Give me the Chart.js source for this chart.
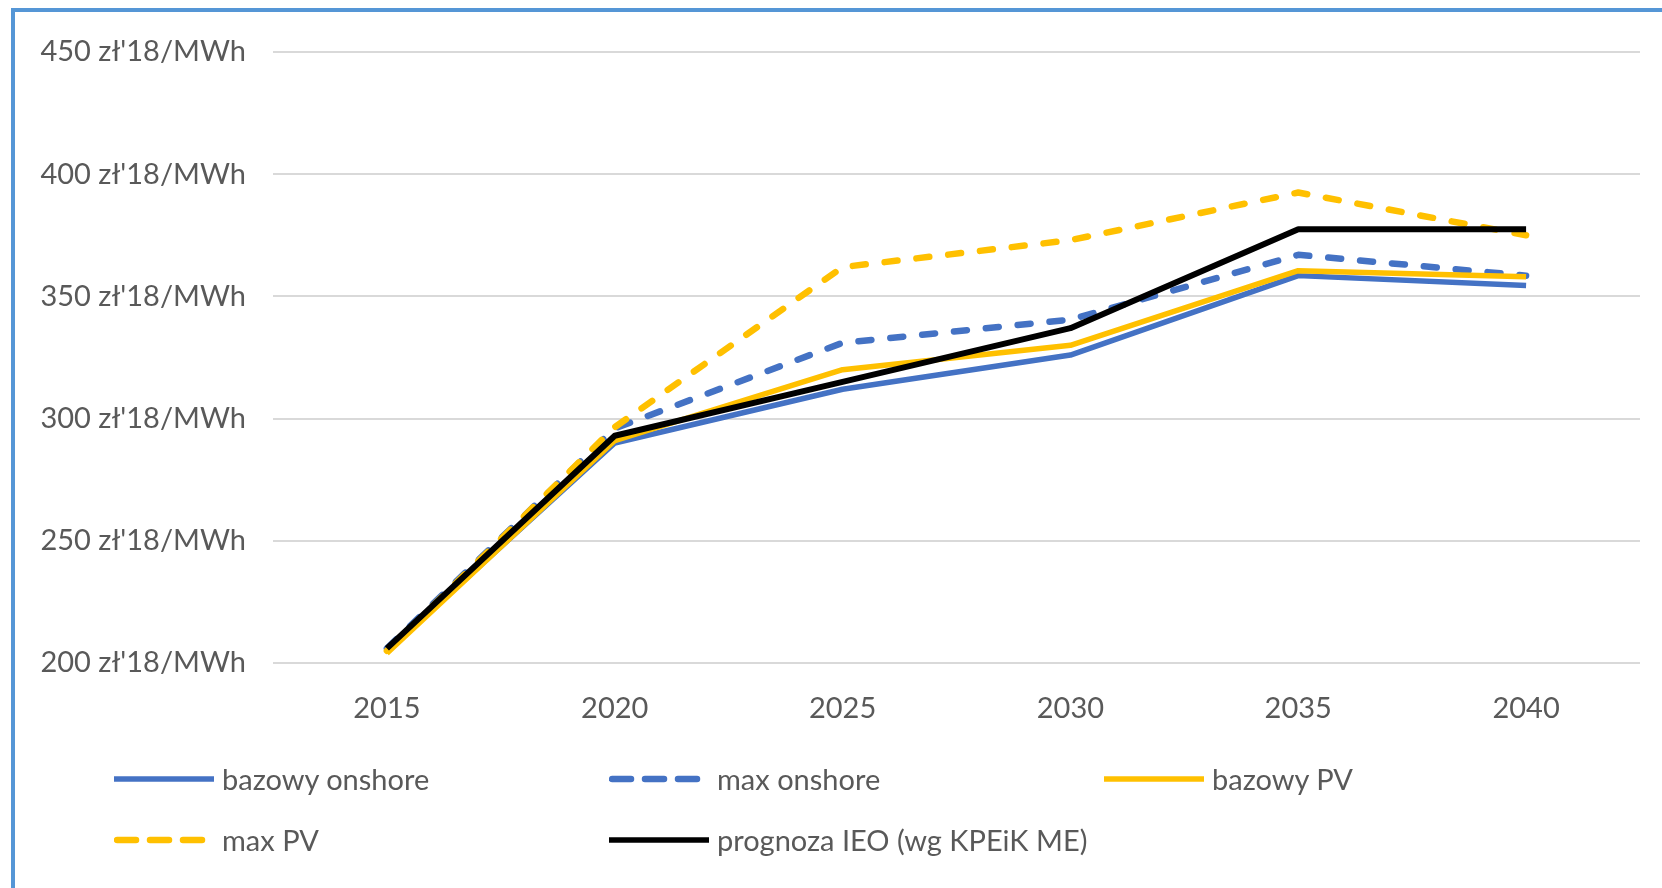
<!DOCTYPE html>
<html>
<head>
<meta charset="utf-8">
<script src="https://cdn.jsdelivr.net/npm/chart.js@4.4.1/dist/chart.umd.min.js"></script>
<style>
  html, body { margin: 0; padding: 0; background: #ffffff; }
  body { width: 1662px; height: 888px; position: relative; overflow: hidden; font-family: Lato, "Open Sans", sans-serif; }
  #frame { position: absolute; left: 11px; top: 8px; width: 1651px; height: 880px; border-top: 4px solid #5596d6; border-left: 4px solid #5596d6; box-sizing: border-box; }
  #c { position: absolute; left: 0; top: 0; }
  #legend { position: absolute; left: 114px; top: 748px; display: grid; grid-template-columns: 495px 495px 495px; grid-auto-rows: 61px; }
  .item { display: flex; align-items: center; height: 61px; }
  .item svg { width: 100px; height: 12px; margin-right: 8px; }
  .item span { font-size: 29px; color: #595959; white-space: nowrap; }
</style>
</head>
<body>
<div id="frame"></div>
<canvas id="c" width="1662" height="888"></canvas>
<div id="legend"></div>
<script>
// ---- data ----
const years = ['2015', '2020', '2025', '2030', '2035', '2040'];
const seriesNames = ['bazowy onshore', 'max onshore', 'bazowy PV', 'max PV', 'prognoza IEO (wg KPEiK ME)'];
const bazowyOnshore = [205, 290, 312, 326, 358.5, 354.5];
const maxOnshore   = [206, 296, 331, 340.5, 367, 358.5];
const bazowyPV     = [204, 291, 320, 330, 360.5, 358];
const maxPV        = [205, 296.5, 362, 373, 392.5, 375];
const prognozaIEO  = [206, 293, 315, 337, 377.5, 377.5];
const yTicks = [200, 250, 300, 350, 400, 450];
const yUnit = " zł'18/MWh";

// ---- styles ----
const colors = ['#4472c4', '#4472c4', '#ffc000', '#ffc000', '#000000'];
const dashed = [false, true, false, true, false];
const widths = [5.5, 6.5, 5.5, 6.5, 6];
const values = [bazowyOnshore, maxOnshore, bazowyPV, maxPV, prognozaIEO];

const datasets = seriesNames.map((name, i) => ({
  label: name,
  data: values[i],
  borderColor: colors[i],
  backgroundColor: colors[i],
  borderWidth: widths[i],
  borderDash: dashed[i] ? [13, 19] : [],
  borderCapStyle: dashed[i] ? 'round' : 'butt',
  borderJoinStyle: 'round',
  pointRadius: 0,
  pointHoverRadius: 0,
  tension: 0,
  fill: false,
  order: seriesNames.length - i
}));

new Chart(document.getElementById('c'), {
  type: 'line',
  data: { labels: years, datasets },
  options: {
    responsive: false,
    animation: false,
    events: [],
    layout: { padding: { left: 0, top: 52, right: 22, bottom: 165 } },
    plugins: { legend: { display: false }, tooltip: { enabled: false } },
    scales: {
      x: {
        offset: true,
        grid: { display: false, drawTicks: false },
        border: { display: false },
        ticks: { color: '#595959', font: { family: 'Lato', size: 29 }, padding: 28, maxRotation: 0 },
        afterFit(scale) { scale.height = 60; }
      },
      y: {
        min: 200, max: 450,
        afterBuildTicks(scale) { scale.ticks = yTicks.map(v => ({ value: v })); },
        grid: { color: '#d9d9d9', lineWidth: 2, drawTicks: false },
        border: { display: false },
        ticks: { color: '#595959', font: { family: 'Lato', size: 29 }, padding: 27,
          callback: v => v + yUnit },
        afterFit(scale) { scale.width = 273; }
      }
    }
  }
});

// ---- legend (HTML) ----
const legendOrder = [0, 1, 2, 3, 4];
const lg = document.getElementById('legend');
legendOrder.forEach(i => {
  const d = document.createElement('div');
  d.className = 'item';
  const dash = dashed[i] ? 'stroke-dasharray="19 14" stroke-linecap="round"' : '';
  const x1 = dashed[i] ? 3 : 0, x2 = dashed[i] ? 97 : 100;
  d.innerHTML = `<svg viewBox="0 0 100 12"><line x1="${x1}" y1="6" x2="${x2}" y2="6" stroke="${colors[i]}" stroke-width="${dashed[i] ? 6.5 : 5.5}" ${dash}/></svg><span>${seriesNames[i]}</span>`;
  lg.appendChild(d);
});
</script>
</body>
</html>
